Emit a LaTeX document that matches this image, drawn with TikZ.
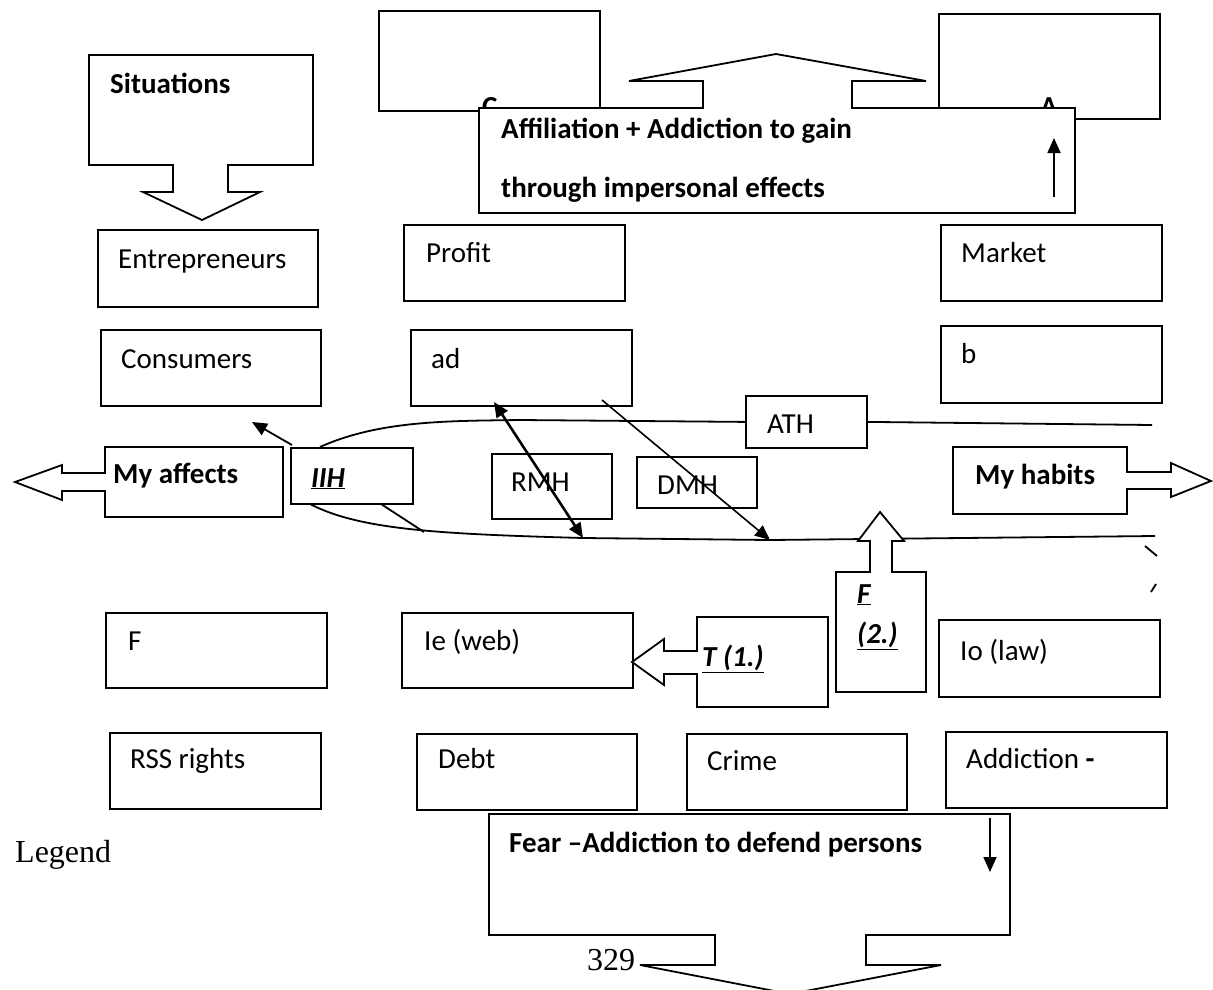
\documentclass[tikz,border=0pt]{standalone}
\usepackage{fontspec}
\setmainfont{Carlito}
\newfontfamily\timesfont{Liberation Serif}
\usetikzlibrary{arrows.meta}
\begin{document}
\begin{tikzpicture}[x=1pt,y=-1pt,
  box/.style={draw, line width=1.8pt, fill=white, inner sep=0pt, anchor=north west},
  txt/.style={anchor=base west, inner sep=0pt, font=\fontsize{29}{35}\selectfont},
  btxt/.style={anchor=base west, inner sep=0pt, font=\fontsize{29}{35}\selectfont\bfseries},
  ubtxt/.style={anchor=base west, inner sep=0pt, font=\fontsize{29}{35}\selectfont\bfseries\itshape},
  serif/.style={anchor=base west, inner sep=0pt, font=\fontsize{32}{38}\selectfont\timesfont},
  callout/.style={draw, line width=1.8pt, fill=white, line join=miter},
  conn/.style={line width=1.8pt},
  tip/.style={-{Triangle[length=15pt,width=13pt]}},
]
\useasboundingbox (0,0) rectangle (1213,989);

% upper boxes C and A, partly hidden behind the affiliation callout
\node[box, minimum width=221pt, minimum height=100pt] (cbox) at (378,10) {};
\node[box, minimum width=221pt, minimum height=105pt] (abox) at (938,13) {};
\node[btxt] (ctxt) at (482,116) {C};
\node[btxt] (atxt) at (1040,116) {A};

% affiliation callout with its upward arrow
\draw[callout] (479,108) -- (703,108) -- (703,81) -- (629,81) -- (776,54) -- (926,81)
  -- (852,81) -- (852,108) -- (1075,108) -- (1075,213) -- (479,213) -- cycle;
\node[btxt] (aff1) at (501,138) {Affiliation + Addiction to gain};
\node[btxt] (aff2) at (501,197) {through impersonal effects};
\coordinate (affup0) at (1054,197);
\coordinate (affup1) at (1054,138);
\draw[conn, tip] (affup0) -- (affup1);

% situations callout with its downward arrow
\draw[callout] (89,55) -- (313,55) -- (313,165) -- (228,165) -- (228,192) -- (260,192)
  -- (202,220) -- (143,192) -- (173,192) -- (173,165) -- (89,165) -- cycle;
\node[btxt] (sit) at (110,93) {Situations};

% second and third rows
\node[box, minimum width=220pt, minimum height=77pt] (entre) at (97,229) {};
\node[txt] at (118,268) {Entrepreneurs};
\node[box, minimum width=221pt, minimum height=76pt] (profit) at (403,224) {};
\node[txt] at (426,262) {Profit};
\node[box, minimum width=221pt, minimum height=76pt] (market) at (940,224) {};
\node[txt] at (961,262) {Market};

\node[box, minimum width=220pt, minimum height=76pt] (cons) at (100,329) {};
\node[txt] at (121,368) {Consumers};
\node[box, minimum width=221pt, minimum height=76pt] (ad) at (410,329) {};
\node[txt] at (431,368) {ad};
\node[box, minimum width=221pt, minimum height=77pt] (bbox) at (940,325) {};
\node[txt] at (961,363) {b};

% the loop of habits
\coordinate (up0) at (320,447);
\coordinate (up1) at (520,420);
\coordinate (up2) at (1152,425);
\coordinate (lo0) at (310,504);
\coordinate (lo1) at (583,538);
\coordinate (lo2) at (770,540);
\coordinate (lo3) at (1155,536);
\node[box, minimum width=121pt, minimum height=52pt] (ath) at (745,395) {};
\node[txt] at (767,433) {ATH};
\draw[conn] (up0) .. controls (380,420) and (450,421) .. (up1) -- (ath.west);
\draw[conn] (ath.east) -- (up2);
\draw[conn] (lo0) .. controls (360,530) and (440,534) .. (lo1) -- (lo2) -- (lo3);
\draw[conn] (1145,546) -- (1157,556);
\draw[conn] (1151,592) -- (1156,584);

\node[box, minimum width=122pt, minimum height=56pt] (iih) at (290,447) {};
\node[ubtxt] at (311,487) {\underline{IIH}};
\node[box, minimum width=120pt, minimum height=65pt] (rmh) at (491,453) {};
\node[txt] at (511,491) {RMH};
\node[box, minimum width=120pt, minimum height=51pt] (dmh) at (636,456) {};
\node[txt] at (657,494) {DMH};

% my affects / my habits callouts
\draw[callout] (105,447) -- (283,447) -- (283,517) -- (105,517) -- (105,491) -- (62,491)
  -- (62,500) -- (15,482) -- (62,465) -- (62,473) -- (105,473) -- cycle;
\node[btxt] (aff) at (113,483) {My affects};
\draw[callout] (953,447) -- (1127,447) -- (1127,472) -- (1171,472) -- (1171,463)
  -- (1211,481) -- (1171,497) -- (1171,489) -- (1127,489) -- (1127,514) -- (953,514) -- cycle;
\node[btxt] (hab) at (975,484) {My habits};

% connectors
\coordinate (iihc) at (292,445);
\coordinate (consc) at (252,422);
\draw[conn, tip] (iihc) -- (consc);
\coordinate (iihb) at (381,504);
\coordinate (loopb) at (424,532);
\draw[conn] (iihb) -- (loopb);
\coordinate (ad1) at (494,402);
\draw[line width=2.6pt, {Triangle[length=15pt,width=13pt]}-{Triangle[length=15pt,width=13pt]}] (ad1) -- (lo1);
\coordinate (ad2) at (602,400);
\draw[line width=1.6pt, tip] (ad2) -- (lo2);

% F (2.) callout with upward arrow
\draw[callout] (836,572) -- (870,572) -- (870,541) -- (858,541) -- (880,512) -- (904,541)
  -- (892,541) -- (892,572) -- (926,572) -- (926,692) -- (836,692) -- cycle;
\node[ubtxt] at (857,603) {\underline{F}};
\node[ubtxt] at (857,643) {\underline{(2.)}};

% fourth row
\node[box, minimum width=221pt, minimum height=75pt] (fbox) at (105,612) {};
\node[txt] at (128,650) {F};
\node[box, minimum width=231pt, minimum height=75pt] (ie) at (401,612) {};
\node[txt] at (424,650) {Ie (web)};
\node[box, minimum width=221pt, minimum height=77pt] (io) at (938,619) {};
\node[txt] at (960,660) {Io (law)};

% T (1.) callout with left arrow
\draw[callout] (697,617) -- (828,617) -- (828,707) -- (697,707) -- (697,674) -- (664,674)
  -- (664,685) -- (632,662) -- (664,639) -- (664,651) -- (697,651) -- cycle;
\node[ubtxt] at (702,666) {\underline{T (1.)}};

% fifth row
\node[box, minimum width=211pt, minimum height=76pt] (rss) at (109,732) {};
\node[txt] at (130,768) {RSS rights};
\node[box, minimum width=220pt, minimum height=76pt] (debt) at (416,733) {};
\node[txt] at (438,768) {Debt};
\node[box, minimum width=220pt, minimum height=76pt] (crime) at (686,733) {};
\node[txt] at (707,770) {Crime};
\node[box, minimum width=221pt, minimum height=76pt] (addi) at (945,731) {};
\node[txt] at (966,768) {Addiction \textbf{-}};

% fear callout with downward arrow
\draw[callout] (489,814) -- (1010,814) -- (1010,935) -- (866,935) -- (866,965) -- (941,965)
  -- (790,994) -- (640,965) -- (715,965) -- (715,935) -- (489,935) -- cycle;
\node[btxt] (fear) at (509,852) {Fear –Addiction to defend persons};
\coordinate (fd0) at (990,818);
\coordinate (fd1) at (990,872);
\draw[conn, tip] (fd0) -- (fd1);

\node[serif] (legend) at (15,862) {Legend};
\node[serif] (page) at (587,970) {329};
\end{tikzpicture}
\end{document}
